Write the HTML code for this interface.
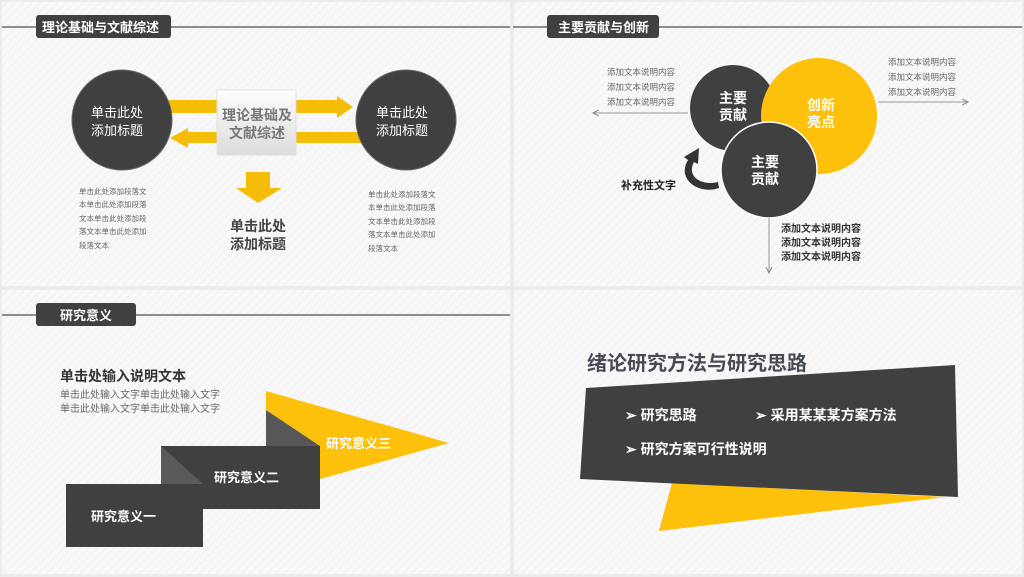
<!DOCTYPE html>
<html><head><meta charset="utf-8"><style>
html,body{margin:0;padding:0;background:#f4f6f6;}
svg{display:block;font-family:"Liberation Sans","Noto Sans CJK SC",sans-serif;}
.b{font-weight:bold}
</style></head><body>
<svg width="1024" height="577" viewBox="0 0 1024 577">
<defs>
<pattern id="st" width="6" height="6" patternUnits="userSpaceOnUse" patternTransform="rotate(45)">
<rect width="6" height="6" fill="#f8f8f8"/><rect width="1" height="6" fill="#f0f0f0"/></pattern>
<linearGradient id="bx" x1="0" y1="0" x2="0" y2="1"><stop offset="0" stop-color="#fdfdfd"/><stop offset="1" stop-color="#dcdcdc"/></linearGradient>
<marker id="ah" markerWidth="8" markerHeight="8" refX="6" refY="4" orient="auto"><path d="M0,1 L6,4 L0,7" fill="none" stroke="#888" stroke-width="1"/></marker>
</defs>
<rect width="1024" height="577" fill="#e9eded"/>
<rect x="2" y="2" width="508" height="284" fill="url(#st)"/>
<rect x="514" y="2" width="508" height="284" fill="url(#st)"/>
<rect x="2" y="290" width="508" height="284" fill="url(#st)"/>
<rect x="514" y="290" width="508" height="284" fill="url(#st)"/>

<!-- Q1 -->
<line x1="2" y1="27" x2="510" y2="27" stroke="#8a8f94" stroke-width="2"/>
<rect x="36" y="15" width="135" height="23" rx="3" fill="#404040"/>
<text x="42" y="32" fill="#fff" font-size="13" class="b">理论基础与文献综述</text>
<polygon points="165,100 337,100 337,96 353,107 337,118 337,113 165,113" fill="#f5bd07"/>
<polygon points="365,132 188,132 188,128 170,138 188,148 188,143 365,143" fill="#f5bd07"/>
<circle cx="122" cy="120" r="50" fill="#404040" stroke="#666" stroke-width="1"/>
<circle cx="406" cy="120" r="50" fill="#404040" stroke="#666" stroke-width="1"/>
<rect x="217" y="90" width="79" height="65" fill="url(#bx)" stroke="#e0e0e0"/>
<text x="257" y="120" fill="#777" font-size="14" class="b" text-anchor="middle">理论基础及</text>
<text x="257" y="138" fill="#777" font-size="14" class="b" text-anchor="middle">文献综述</text>
<text x="117" y="117" fill="#fff" font-size="13" text-anchor="middle">单击此处</text>
<text x="117" y="135" fill="#fff" font-size="13" text-anchor="middle">添加标题</text>
<text x="402" y="117" fill="#fff" font-size="13" text-anchor="middle">单击此处</text>
<text x="402" y="135" fill="#fff" font-size="13" text-anchor="middle">添加标题</text>
<polygon points="246,172 270,172 270,188 282,188 258,203 236,188 246,188" fill="#f5bd07"/>
<text x="258" y="231" fill="#444" font-size="14" class="b" text-anchor="middle">单击此处</text>
<text x="258" y="249" fill="#444" font-size="14" class="b" text-anchor="middle">添加标题</text>
<g fill="#666" font-size="7.5">
<text x="79" y="194">单击此处添加段落文</text><text x="79" y="207">本单击此处添加段落</text><text x="79" y="221">文本单击此处添加段</text><text x="79" y="234">落文本单击此处添加</text><text x="79" y="248">段落文本</text>
<text x="368" y="197">单击此处添加段落文</text><text x="368" y="210">本单击此处添加段落</text><text x="368" y="224">文本单击此处添加段</text><text x="368" y="237">落文本单击此处添加</text><text x="368" y="251">段落文本</text>
</g>

<!-- Q2 -->
<line x1="513" y1="27" x2="1022" y2="27" stroke="#8a8f94" stroke-width="2"/>
<rect x="547" y="15" width="112" height="23" rx="3" fill="#404040"/>
<text x="558" y="32" fill="#fff" font-size="13" class="b">主要贡献与创新</text>
<circle cx="733" cy="108" r="43" fill="#404040"/>
<circle cx="819" cy="116" r="58" fill="#fdc00b"/>
<circle cx="769" cy="170" r="48" fill="#404040" stroke="#fff" stroke-width="1.5"/>
<text x="733" y="103" fill="#fff" font-size="14" class="b" text-anchor="middle">主要</text>
<text x="733" y="120" fill="#fff" font-size="14" class="b" text-anchor="middle">贡献</text>
<text x="821" y="110" fill="#fff" font-size="14" class="b" text-anchor="middle">创新</text>
<text x="821" y="127" fill="#fff" font-size="14" class="b" text-anchor="middle">亮点</text>
<text x="765" y="167" fill="#fff" font-size="14" class="b" text-anchor="middle">主要</text>
<text x="765" y="184" fill="#fff" font-size="14" class="b" text-anchor="middle">贡献</text>
<g fill="#666" font-size="8.5">
<text x="607" y="75">添加文本说明内容</text><text x="607" y="90">添加文本说明内容</text><text x="607" y="105">添加文本说明内容</text>
<text x="888" y="65">添加文本说明内容</text><text x="888" y="80">添加文本说明内容</text><text x="888" y="95">添加文本说明内容</text>
</g>
<line x1="688" y1="113" x2="593" y2="113" stroke="#999" marker-end="url(#ah)"/>
<line x1="878" y1="102" x2="968" y2="102" stroke="#999" marker-end="url(#ah)"/>
<line x1="769" y1="218" x2="769" y2="273" stroke="#999" marker-end="url(#ah)"/>
<g fill="#333" font-size="10" class="b">
<text x="781" y="232">添加文本说明内容</text><text x="781" y="246">添加文本说明内容</text><text x="781" y="260">添加文本说明内容</text>
</g>
<path d="M719,188 C700,195 676,180 688,160 L684,157 L699,148 L698,164 L694,162 C686,177 702,186 718,182 Z" fill="#333"/>
<text x="621" y="189" fill="#222" font-size="11" class="b">补充性文字</text>

<!-- Q3 -->
<line x1="2" y1="315" x2="510" y2="315" stroke="#8a8f94" stroke-width="2"/>
<rect x="36" y="303" width="100" height="23" rx="3" fill="#404040"/>
<text x="60" y="320" fill="#fff" font-size="13" class="b">研究意义</text>
<text x="60" y="381" fill="#333" font-size="14" class="b">单击处输入说明文本</text>
<text x="60" y="398" fill="#666" font-size="10">单击此处输入文字单击此处输入文字</text>
<text x="60" y="412" fill="#666" font-size="10">单击此处输入文字单击此处输入文字</text>
<polygon points="266,391 449,443 320,479 320,446 266,410" fill="#fdc00b"/>
<polygon points="266,410 320,446 266,446" fill="#575757"/>
<rect x="161" y="446" width="159" height="63" fill="#404040"/>
<polygon points="161,446 203,484 161,484" fill="#5a5a5a"/>
<rect x="66" y="484" width="137" height="63" fill="#404040"/>
<text x="326" y="448" fill="#fff" font-size="13" class="b">研究意义三</text>
<text x="214" y="482" fill="#fff" font-size="13" class="b">研究意义二</text>
<text x="91" y="521" fill="#fff" font-size="13" class="b">研究意义一</text>

<!-- Q4 -->
<polygon points="672,483 946,497 659,531" fill="#fdc00b"/>
<polygon points="586,388 955,365 958,497 580,479" fill="#404040"/>
<text x="587" y="370" fill="#474b55" font-size="20" class="b">绪论研究方法与研究思路</text>
<g fill="#fff" font-size="14" class="b">
<text x="625" y="420">➢ 研究思路</text>
<text x="755" y="420">➢ 采用某某某方案方法</text>
<text x="625" y="454">➢ 研究方案可行性说明</text>
</g>
</svg>
</body></html>
